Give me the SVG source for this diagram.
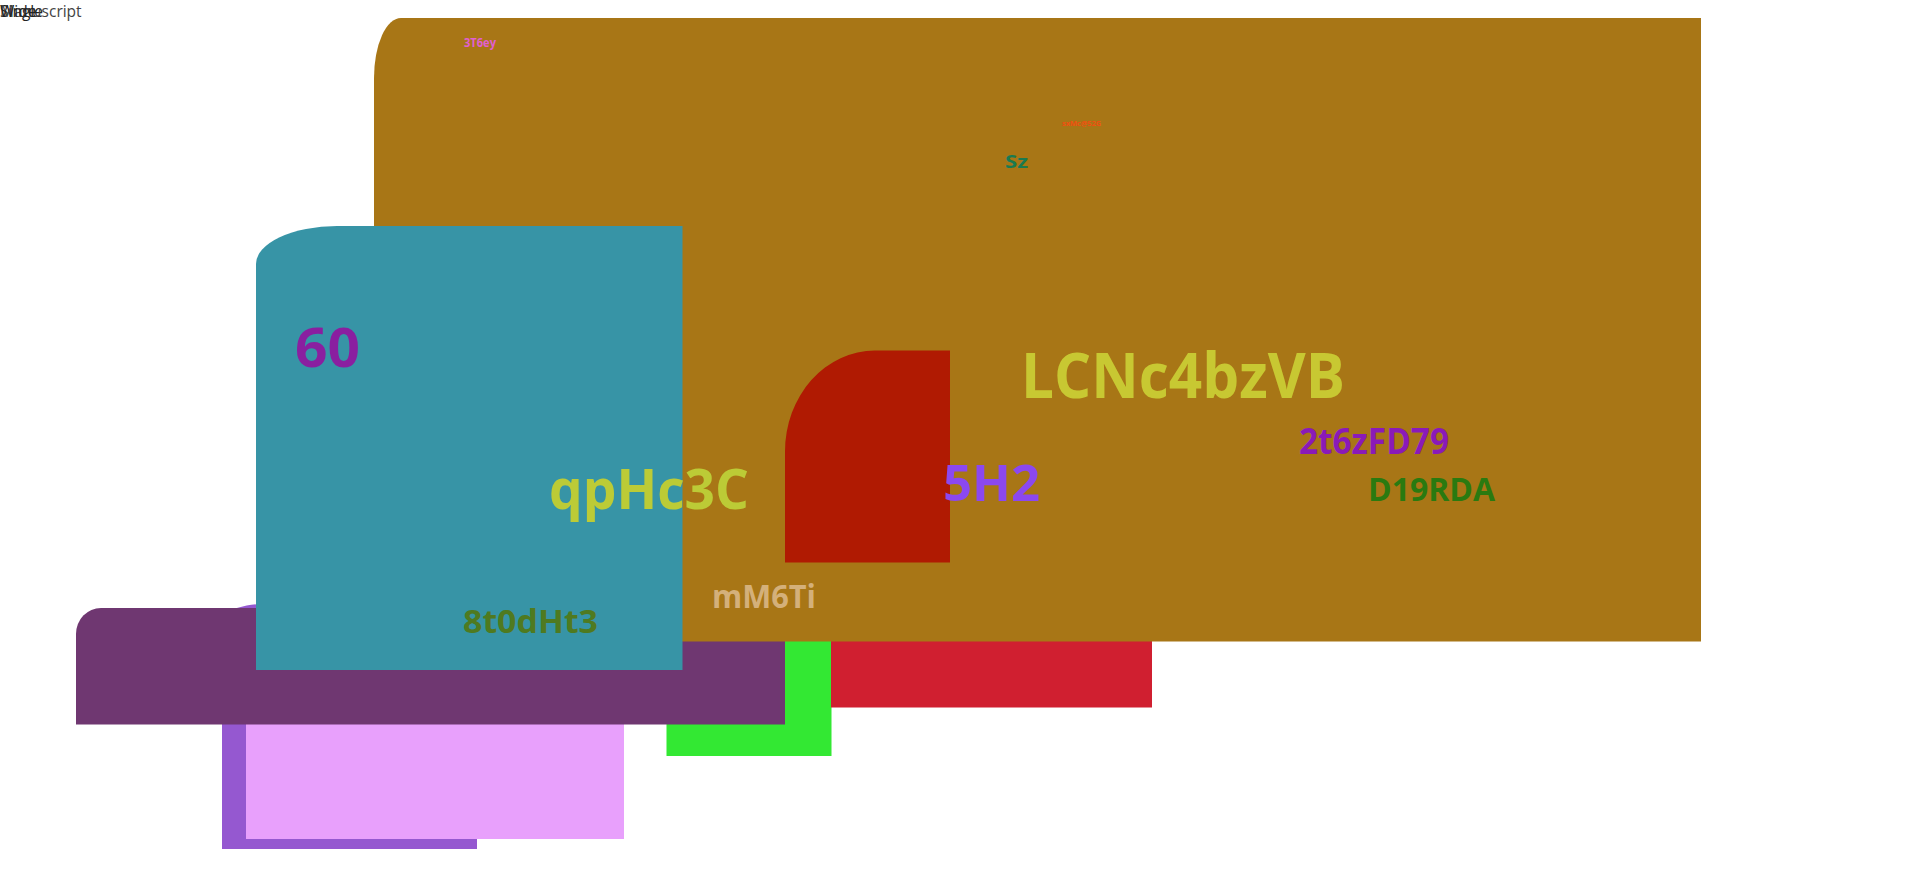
<svg xmlns="http://www.w3.org/2000/svg" width="1920" height="870" viewBox="0 0 1920 870">
<style>
text{font-family:"Open Sans","Noto Sans","Liberation Sans",sans-serif;font-weight:700}
.hdr{font-weight:400;font-size:15.5px}
</style>
<rect width="1920" height="870" fill="#ffffff"/>
<g id="hdr">
<text class="hdr" x="0" y="17" fill="#222">Single</text>
<text class="hdr" x="0" y="17" fill="#444">Manuscript</text>
<text class="hdr" x="0" y="17" fill="#222">Wide</text>
</g>
<g id="n-violet"><path d="M222 849V624A40 20 0 0 1 262 604H477V849Z" fill="#9558d0"/></g>
<g id="n-pink"><rect x="246" y="700" width="378" height="139" fill="#e8a0fc"/></g>
<g id="n-green"><rect x="666.5" y="600" width="165" height="156" fill="#33e833"/></g>
<g id="n-red"><rect x="831" y="600" width="321" height="107.5" fill="#d01f30"/></g>
<g id="n-plum"><path d="M76 724.5V634A25 26 0 0 1 101 608H785V724.5Z" fill="#6f3771"/></g>
<g id="n-brown">
<path d="M374 641.5V78A27 60 0 0 1 401 18H1701V641.5Z" fill="#a87616"/>
<text x="464" y="46.5" font-size="11.5" fill="#e060d0" textLength="32" lengthAdjust="spacingAndGlyphs">3T6ey</text>
<text x="1062" y="125.5" font-size="6.5" fill="#f05010" textLength="39" lengthAdjust="spacingAndGlyphs">sxMc@52G</text>
<text x="1005" y="167.5" font-size="18" fill="#1a7a50" textLength="23" lengthAdjust="spacingAndGlyphs">Sz</text>
<text x="1021" y="398" font-size="62" fill="#c8c832" textLength="324" lengthAdjust="spacingAndGlyphs">LCNc4bzVB</text>
<text x="1299" y="454" font-size="35" fill="#8a1ab8" textLength="150" lengthAdjust="spacingAndGlyphs">2t6zFD79</text>
<text x="1368" y="501" font-size="33" fill="#2a7a10" textLength="127" lengthAdjust="spacingAndGlyphs">D19RDA</text>
<text x="712" y="608" font-size="32" fill="#d4b07a" textLength="104" lengthAdjust="spacingAndGlyphs">mM6Ti</text>
</g>
<g id="n-teal">
<path d="M256 670V264A81 38 0 0 1 337 226H682.5V670Z" fill="#3794a6"/>
<text x="295" y="367" font-size="53" fill="#8a1fa0" textLength="65" lengthAdjust="spacingAndGlyphs">60</text>
<text x="463" y="633" font-size="33" fill="#4f7a20" textLength="135" lengthAdjust="spacingAndGlyphs">8t0dHt3</text>
</g>
<g id="n-darkred">
<path d="M785 562.5V451.5A90 101 0 0 1 875 350.5H950V562.5Z" fill="#b01a02"/>
</g>
<g id="labels">
<text x="549" y="509" font-size="55" fill="#bccb36" textLength="200" lengthAdjust="spacingAndGlyphs">qpHc3C</text>
<text x="943" y="501" font-size="51" fill="#8b48f0" textLength="97" lengthAdjust="spacingAndGlyphs">5H2</text>
</g>
<g id="connectors"></g>
</svg>
